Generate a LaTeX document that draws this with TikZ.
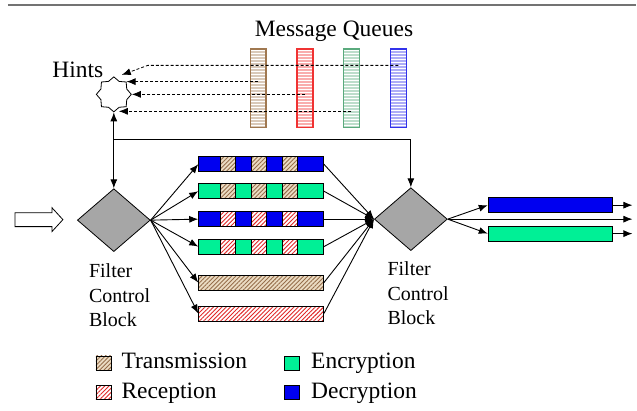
\documentclass[tikz,border=0pt]{standalone}
\usepackage{fontspec}
\setmainfont{Liberation Serif}
\usepackage{xcolor}
\usetikzlibrary{shapes.geometric}
\usetikzlibrary{arrows.meta}
\usetikzlibrary{patterns.meta}

\definecolor{decblue}{RGB}{0,0,240}
\definecolor{encgreen}{RGB}{0,240,150}
\definecolor{txbrown}{RGB}{150,110,75}
\definecolor{txtan}{RGB}{235,220,195}
\definecolor{rxred}{RGB}{225,40,40}
\definecolor{qbrown}{RGB}{160,120,80}
\definecolor{qred}{RGB}{240,50,50}
\definecolor{qgreen}{RGB}{90,170,125}
\definecolor{qblue}{RGB}{50,50,235}

\begin{document}
\begin{tikzpicture}[x=1pt, y=-1pt]
        % ================= styles =================
        \tikzset{
            % filter control block: grey diamond
            fcb/.style={diamond, draw=black, line width=0.8pt, fill=black!35, minimum width=73pt, minimum height=63pt, inner sep=0pt},
            % hints: small 8-point star
            hintstar/.style={star, star points=8, star point ratio=1.25, draw=black, line width=0.8pt, fill=white, minimum size=35pt, inner sep=0pt},
            % message queue: striped column
            queue/.style={rectangle, draw=#1, line width=1.2pt, preaction={fill=#1!40}, pattern={Lines[angle=0, distance=3pt, line width=1pt]}, pattern color=white, minimum width=16pt, minimum height=79pt, inner sep=0pt},
            % work queues
            bar/.style={rectangle, draw=black, line width=0.9pt, minimum width=125pt, minimum height=15pt, inner sep=0pt},
            txhatch/.style={draw=black, line width=0.6pt, preaction={fill=txtan}, pattern={Lines[angle=45, distance=3pt, line width=0.9pt]}, pattern color=txbrown},
            rxhatch/.style={draw=black, line width=0.6pt, preaction={fill=white}, pattern={Lines[angle=45, distance=3pt, line width=0.9pt]}, pattern color=rxred},
            swatch/.style={rectangle, minimum width=15pt, minimum height=14pt, inner sep=0pt},
            % arrows and text
            arr/.style={line width=0.9pt, -{Latex[length=9pt, width=7pt]}},
            hintarr/.style={line width=0.8pt, dash pattern=on 3pt off 2pt, -{Latex[length=9pt, width=7pt]}},
            bigtxt/.style={font=\fontsize{23.5}{28}\selectfont, inner sep=0pt},
            fcbtxt/.style={font=\fontsize{20}{24.5}\selectfont, align=left, inner sep=0pt, anchor=north west}
        }

        % header rule
        \draw[black!55, line width=2pt] (8,5) -- (637,5);

        % ================= 1. message queues and hints =================
        \node[bigtxt, anchor=base] (mqtxt) at (334.5,37) {Message Queues};
        \node[queue=qbrown] (qt) at (258.5,88.5) {};
        \node[queue=qred]   (qr) at (305.5,88.5) {};
        \node[queue=qgreen] (qe) at (352,88.5) {};
        \node[queue=qblue]  (qd) at (399,88.5) {};

        \node[hintstar] (hint) at (114,94.5) {};
        \node[bigtxt, anchor=base] (hinttxt) at (78,78) {Hints};

        \coordinate (kd) at (148,65.5);   % bend of the top line
        \coordinate (hd) at (122,75);
        \coordinate (hg) at (119,111.5);

        \draw[hintarr] (qd.center |- kd) -- (kd) -- (hd);
        \draw[hintarr] (qt.center |- hint.north east) -- (hint.north east);
        \draw[hintarr] (qr.center |- hint.east) -- (hint.east);
        \draw[hintarr] (qe.center |- hg) -- (hg);

        % ================= 2. filter control blocks =================
        \draw[line width=0.8pt] (15,213) -- (52,213) -- (52,208) -- (63,220) -- (52,232) -- (52,227) -- (15,227) -- cycle;

        \node[fcb] (d1) at (114,220.5) {};
        \node[fcb] (d2) at (411.5,219.5) {};
        \node[fcbtxt] (t1) at (89,264) {Filter\\Control\\Block};
        \node[fcbtxt] (t2) at (388,262) {Filter\\Control\\Block};

        % feedback from the blocks to the hints
        \coordinate (jl) at (114,140);
        \draw[arr] (jl) -- (hint.south);
        \draw[arr] (jl) -- (d1.north);
        \draw[arr] (jl) -- (jl -| d2.north) -- (d2.north);

        % ================= 3. work queues =================
        \node[bar, fill=decblue]  (r1) at (261.5,164.5) {};
        \node[bar, fill=encgreen] (r2) at (261.5,191.5) {};
        \node[bar, fill=decblue]  (r3) at (261.5,219.5) {};
        \node[bar, fill=encgreen] (r4) at (261.5,247) {};
        \node[bar, txhatch, line width=0.9pt] (r5) at (261.5,283) {};
        \node[bar, rxhatch, line width=0.9pt] (r6) at (261.5,314) {};

        \draw[txhatch] (221,157) rectangle ++(15,15);
        \draw[txhatch] (252,157) rectangle ++(15,15);
        \draw[txhatch] (283,157) rectangle ++(15,15);
        \draw[txhatch] (221,184) rectangle ++(15,15);
        \draw[txhatch] (252,184) rectangle ++(15,15);
        \draw[txhatch] (283,184) rectangle ++(15,15);
        \draw[rxhatch] (221,212) rectangle ++(15,15);
        \draw[rxhatch] (252,212) rectangle ++(15,15);
        \draw[rxhatch] (283,212) rectangle ++(15,15);
        \draw[rxhatch] (221,239.5) rectangle ++(15,15);
        \draw[rxhatch] (252,239.5) rectangle ++(15,15);
        \draw[rxhatch] (283,239.5) rectangle ++(15,15);

        \draw[arr] (d1.east) -- (r1.west);
        \draw[arr] (d1.east) -- (r2.west);
        \draw[arr] (d1.east) -- (r3.west);
        \draw[arr] (d1.east) -- (r4.west);
        \draw[arr] (d1.east) -- (r5.west);
        \draw[arr] (d1.east) -- (r6.west);

        \draw[arr] (r1.east) -- (d2.west);
        \draw[arr] (r2.east) -- (d2.west);
        \draw[arr] (r3.east) -- (d2.west);
        \draw[arr] (r4.east) -- (d2.west);
        \draw[arr] (r5.east) -- (d2.west);
        \draw[arr] (r6.east) -- (d2.west);

        % ================= 4. output =================
        \node[bar, fill=decblue, minimum width=124pt]  (od) at (551,205.5) {};
        \node[bar, fill=encgreen, minimum width=124pt] (oe) at (551,234) {};

        \draw[arr] (d2.east) -- (od.west);
        \draw[arr] (d2.east) -- (oe.west);
        \draw[arr] (d2.east) -- ++(185,0);
        \draw[arr] (od.east) -- ++(20,0);
        \draw[arr] (oe.east) -- ++(20,0);

        % ================= 5. legend =================
        \node[swatch, txhatch] (lt) at (103.5,363.5) {};
        \node[swatch, rxhatch] (lr) at (103.5,393) {};
        \node[swatch, draw=black, line width=0.6pt, fill=encgreen] (le) at (292,363.5) {};
        \node[swatch, draw=black, line width=0.6pt, fill=decblue]  (ld) at (292,393) {};
        \node[bigtxt, anchor=base west] at (121.5,369.5) {Transmission};
        \node[bigtxt, anchor=base west] at (121.5,399.5) {Reception};
        \node[bigtxt, anchor=base west] at (311.5,369.5) {Encryption};
        \node[bigtxt, anchor=base west] at (311.5,399.5) {Decryption};

        \useasboundingbox (0,0) rectangle (637,411);
\end{tikzpicture}
\end{document}
